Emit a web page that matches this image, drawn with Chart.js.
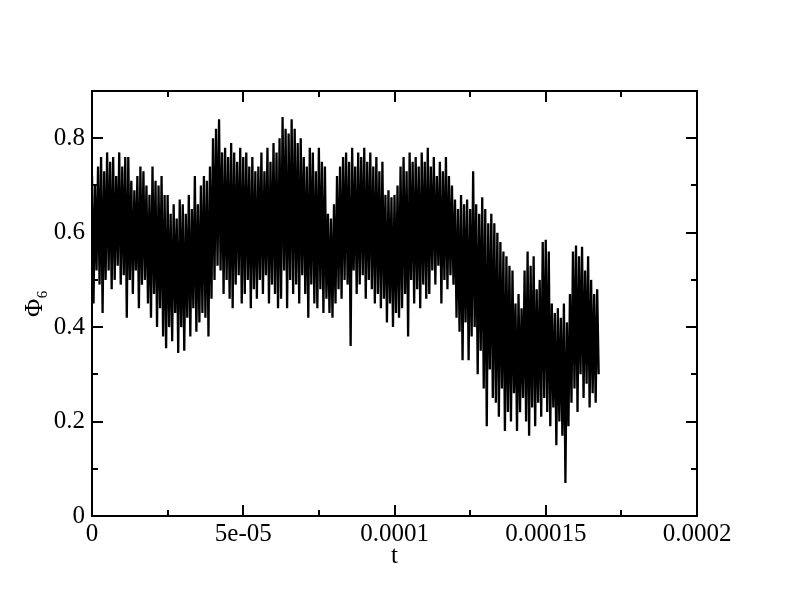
<!DOCTYPE html>
<html>
<head>
<meta charset="utf-8">
<script src="https://cdn.jsdelivr.net/npm/chart.js@4/dist/chart.umd.min.js"></script>
<style>
  html, body { margin: 0; padding: 0; background: #fff; }
  #wrap { width: 792px; height: 607px; }
</style>
</head>
<body>
<div id="wrap"><canvas id="c" width="792" height="607"></canvas></div>
<script>
// Time step between successive samples (s)
const tStep = 5e-7;

// Upper excursions of Phi_6, one per pair of samples
const phiHigh = [
  0.72, 0.70, 0.74, 0.76, 0.73, 0.77, 0.75, 0.76, 0.72, 0.77, 0.74, 0.76,
  0.76, 0.71, 0.69, 0.72, 0.74, 0.73, 0.70, 0.68, 0.74, 0.71, 0.70, 0.72, 0.68,
  0.68, 0.64, 0.66, 0.63, 0.67, 0.66, 0.64, 0.68, 0.65, 0.72, 0.66, 0.70,
  0.72, 0.71, 0.74, 0.80, 0.82,
  0.84, 0.77, 0.78, 0.76, 0.79, 0.77, 0.75, 0.78, 0.76, 0.77, 0.74, 0.76, 0.73,
  0.74, 0.77, 0.73, 0.78, 0.75, 0.79, 0.77,
  0.80, 0.845, 0.82, 0.81, 0.84, 0.82, 0.79, 0.80,
  0.76, 0.74, 0.78, 0.77, 0.73, 0.78, 0.75, 0.74,
  0.64, 0.63, 0.66,
  0.72, 0.74, 0.76, 0.77, 0.75, 0.78, 0.74, 0.77, 0.76, 0.78, 0.75, 0.77, 0.74, 0.76, 0.73, 0.75,
  0.68, 0.69, 0.675, 0.68, 0.70,
  0.74, 0.76, 0.73, 0.77, 0.75, 0.76, 0.74, 0.77, 0.75, 0.78,
  0.74, 0.76, 0.72, 0.75, 0.73, 0.76, 0.72, 0.70,
  0.67, 0.65, 0.68, 0.66, 0.67, 0.65, 0.73,
  0.66, 0.64, 0.675, 0.65, 0.62, 0.64,
  0.62, 0.60, 0.58, 0.56, 0.55, 0.53, 0.52,
  0.45, 0.47, 0.44, 0.52, 0.56, 0.53, 0.55, 0.48, 0.50, 0.58,
  0.585, 0.56, 0.45, 0.43, 0.44, 0.42, 0.45, 0.41,
  0.47, 0.56, 0.573, 0.55, 0.57, 0.52, 0.55, 0.50, 0.47, 0.48
];

// Lower excursions of Phi_6
const phiLow = [
  0.45, 0.52, 0.49, 0.43, 0.50, 0.52, 0.48, 0.50, 0.53, 0.49, 0.51, 0.42,
  0.50, 0.47, 0.52, 0.44, 0.49, 0.50, 0.45, 0.42, 0.47, 0.40, 0.44, 0.38, 0.355,
  0.40, 0.37, 0.43, 0.345, 0.40, 0.35, 0.42, 0.38, 0.44, 0.39, 0.41, 0.43,
  0.42, 0.38, 0.46, 0.50, 0.53,
  0.52, 0.47, 0.50, 0.46, 0.44, 0.49, 0.51, 0.45, 0.47, 0.50, 0.44, 0.48, 0.46,
  0.50, 0.47, 0.51, 0.45, 0.49, 0.47, 0.44,
  0.46, 0.52, 0.44, 0.50, 0.47, 0.49, 0.45, 0.51,
  0.47, 0.42, 0.49, 0.45, 0.44, 0.48, 0.43, 0.46,
  0.43, 0.42, 0.45,
  0.48, 0.46, 0.50, 0.49, 0.36, 0.52, 0.47, 0.49, 0.51, 0.46, 0.50, 0.48, 0.45, 0.47, 0.44, 0.46,
  0.41, 0.45, 0.40, 0.43, 0.42,
  0.44, 0.47, 0.38, 0.50, 0.45, 0.48, 0.44, 0.49, 0.46, 0.47,
  0.52, 0.49, 0.53, 0.45, 0.50, 0.48, 0.51, 0.49,
  0.42, 0.39, 0.33, 0.41, 0.33, 0.38, 0.40,
  0.30, 0.35, 0.27, 0.19, 0.31, 0.25,
  0.24, 0.21, 0.27, 0.18, 0.22, 0.20, 0.26,
  0.18, 0.22, 0.25, 0.20, 0.17, 0.23, 0.19, 0.24, 0.21, 0.25,
  0.22, 0.19, 0.23, 0.15, 0.20, 0.17, 0.07, 0.19,
  0.24, 0.27, 0.22, 0.30, 0.25, 0.28, 0.23, 0.26, 0.24, 0.30
];

// Tick labels
const xTickLabels = ['0', '5e-05', '0.0001', '0.00015', '0.0002'];
const yTickLabels = ['0', '0.2', '0.4', '0.6', '0.8'];
const xTitle = 't';
const yTitle = 'Φ₆';

// Build the sample table: high, low alternately
const points = [];
for (let i = 0; i < phiHigh.length; i++) {
  points.push({ x: (2 * i) * tStep, y: phiHigh[i] });
  points.push({ x: (2 * i + 1) * tStep, y: phiLow[i] });
}

const serif = "'Liberation Serif', 'Times New Roman', serif";

const frameTicks = {
  id: 'frameTicks',
  afterDraw(chart) {
    const { ctx, chartArea: a, scales: { x, y } } = chart;
    ctx.save();
    ctx.strokeStyle = '#000';
    ctx.lineWidth = 2;
    ctx.strokeRect(a.left, a.top, a.right - a.left, a.bottom - a.top);
    ctx.beginPath();
    x.ticks.forEach((t, i) => {
      const px = Math.round(x.getPixelForValue(t.value));
      const len = (i % 2 === 0) ? 11 : 6;
      ctx.moveTo(px, a.bottom); ctx.lineTo(px, a.bottom - len);
      ctx.moveTo(px, a.top); ctx.lineTo(px, a.top + len);
    });
    y.ticks.forEach((t, i) => {
      const py = Math.round(y.getPixelForValue(t.value));
      const len = (i % 2 === 0) ? 11 : 6;
      ctx.moveTo(a.left, py); ctx.lineTo(a.left + len, py);
      ctx.moveTo(a.right, py); ctx.lineTo(a.right - len, py);
    });
    ctx.stroke();
    ctx.restore();
  }
};

new Chart(document.getElementById('c'), {
  type: 'line',
  data: {
    datasets: [{
      data: points,
      borderColor: '#000',
      borderWidth: 2.3,
      borderJoinStyle: 'miter',
      pointRadius: 0,
      tension: 0,
      fill: false
    }]
  },
  options: {
    responsive: false,
    animation: false,
    layout: { padding: { left: 0, right: 95, top: 91, bottom: 0 } },
    plugins: { legend: { display: false }, tooltip: { enabled: false } },
    scales: {
      x: {
        type: 'linear',
        min: 0, max: 0.0002,
        afterFit(s) { s.height = 91; },
        afterBuildTicks(s) {
          const t = [];
          for (let i = 0; i <= 8; i++) t.push({ value: i * 0.000025 });
          s.ticks = t;
        },
        grid: { display: false, drawTicks: false },
        border: { display: false },
        ticks: {
          autoSkip: false,
          maxRotation: 0,
          padding: 3,
          color: '#000',
          font: { family: serif, size: 25 },
          callback: (v, i) => (i % 2 === 0 ? xTickLabels[i / 2] : '')
        },
        title: {
          display: true, text: xTitle, color: '#000',
          font: { family: serif, size: 25 },
          padding: { top: 0, bottom: 36 }
        }
      },
      y: {
        type: 'linear',
        min: 0, max: 0.9,
        afterFit(s) { s.width = 92; },
        afterBuildTicks(s) {
          const t = [];
          for (let i = 0; i <= 9; i++) t.push({ value: i * 0.1 });
          s.ticks = t;
        },
        grid: { display: false, drawTicks: false },
        border: { display: false },
        ticks: {
          autoSkip: false,
          padding: 7,
          color: '#000',
          font: { family: serif, size: 25 },
          callback: (v, i) => (i % 2 === 0 && i / 2 < yTickLabels.length ? yTickLabels[i / 2] : '')
        },
        title: {
          display: true, text: yTitle, color: '#000',
          font: { family: serif, size: 25 },
          padding: { top: 20, bottom: 0 }
        }
      }
    }
  },
  plugins: [frameTicks]
});
</script>
</body>
</html>
